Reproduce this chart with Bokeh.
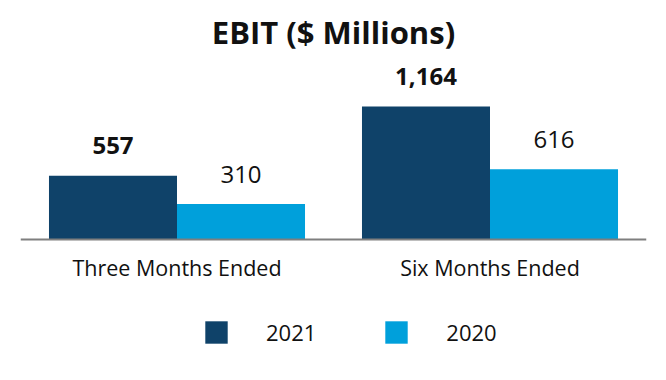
from bokeh.plotting import figure
from bokeh.models import ColumnDataSource, FactorRange, Range1d, Label, Legend, LegendItem
from bokeh.transform import dodge
from bokeh.core.properties import value
from bokeh.embed import file_html
from bokeh.resources import INLINE

categories = ["Three Months Ended", "Six Months Ended"]
series_names = ["2021", "2020"]
ebit_2021 = [557, 1164]
ebit_2020 = [310, 616]
labels_2021 = ["557", "1,164"]
labels_2020 = ["310", "616"]

color_2021 = "#0F4269"
color_2020 = "#00A0DB"

src = ColumnDataSource(dict(cat=categories, v21=ebit_2021, v20=ebit_2020,
                            l21=labels_2021, l20=labels_2020))

p = figure(width=658, height=372, x_range=FactorRange(factors=categories),
           y_range=Range1d(-1164, 2092), output_backend="svg", toolbar_location=None,
           min_border_left=20, min_border_right=12, min_border_top=0, min_border_bottom=0)

bw = 0.409
r21 = p.vbar(x=dodge("cat", -bw / 2, range=p.x_range), top="v21", width=bw, source=src,
             color=color_2021, line_color=None)
r20 = p.vbar(x=dodge("cat", bw / 2, range=p.x_range), top="v20", width=bw, source=src,
             color=color_2020, line_color=None)

p.text(x=dodge("cat", -bw / 2, range=p.x_range), y="v21", text="l21", source=src,
       text_font=value("Open Sans"), text_font_style="bold", text_font_size="24px",
       text_align="center", text_baseline="alphabetic", y_offset=-30, text_color="#111111")
p.text(x=dodge("cat", bw / 2, range=p.x_range), y="v20", text="l20", source=src,
       text_font=value("Open Sans"), text_font_size="24px",
       text_align="center", text_baseline="alphabetic", y_offset=-30, text_color="#111111")

p.add_layout(Label(x=1.0, y=1820, text="EBIT ($ Millions)", text_font="Open Sans",
                   text_font_style="bold", text_font_size="31px", text_align="center",
                   text_baseline="alphabetic", text_color="#111111"))

p.yaxis.visible = False
p.xgrid.visible = False
p.ygrid.visible = False
p.outline_line_color = None
ax = p.xaxis[0]
ax.fixed_location = 0
ax.axis_line_color = "#7f7f7f"
ax.axis_line_width = 2
ax.major_tick_line_color = None
ax.minor_tick_line_color = None
ax.major_label_text_font = "Open Sans"
ax.major_label_text_font_size = "21.5px"
ax.major_label_text_color = "#111111"
ax.major_label_standoff = 7

legend = Legend(items=[LegendItem(label=series_names[0], renderers=[r21]),
                       LegendItem(label=series_names[1], renderers=[r20])],
                orientation="horizontal", location=(182, 25),
                glyph_width=28, glyph_height=28, label_standoff=36, spacing=66,
                padding=0, margin=0, border_line_alpha=0, background_fill_alpha=0,
                label_text_font="Open Sans", label_text_font_size="22px",
                label_text_color="#111111", label_height=28)
p.add_layout(legend, "center")

open("out.html", "w").write(file_html(p, INLINE))
